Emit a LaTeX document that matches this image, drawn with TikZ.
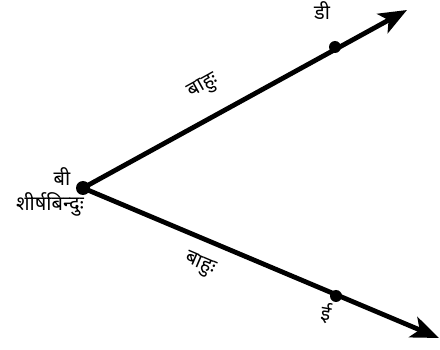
\documentclass[tikz,border=0pt]{standalone}
\usepackage{fontspec}
\newfontfamily\deva[Script=Devanagari]{Noto Sans}
\usetikzlibrary{arrows.meta}
\begin{document}
\begin{tikzpicture}[x=1pt,y=-1pt,
  ray/.style={line width=4.8pt,-{Stealth[length=28pt,width=22pt,inset=7pt]}},
  pt/.style={circle,fill=black,inner sep=0pt,minimum size=14pt},
  lbl/.style={font=\deva\fontsize{20}{24}\selectfont,inner sep=0pt}]
\useasboundingbox (0,0) rectangle (440,350);
\coordinate (Bp) at (83,188);
\coordinate (Dp) at (335,47);
\coordinate (Ep) at (336,296);
\coordinate (tipD) at (407,10);
\coordinate (tipE) at (439,338);
\draw[ray] (Bp) -- (tipD);
\draw[ray] (Bp) -- (tipE);
\node[pt] (B) at (Bp) {};
\node[pt,minimum size=12pt] (D) at (Dp) {};
\node[pt,minimum size=12pt] (E) at (Ep) {};
\node[lbl] (lB) at (62,177) {बी};
\node[lbl] (lV) at (50,204) {शीर्षबिन्दुः};
\node[lbl] (lD) at (322,11) {डी};
\node[lbl,rotate=29] (a1) at (204,87) {बाहुः};
\node[lbl,rotate=-23] (a2) at (200,265) {बाहुः};
\node[lbl,rotate=-10] (lE) at (326,313) {ई};
\end{tikzpicture}
\end{document}
